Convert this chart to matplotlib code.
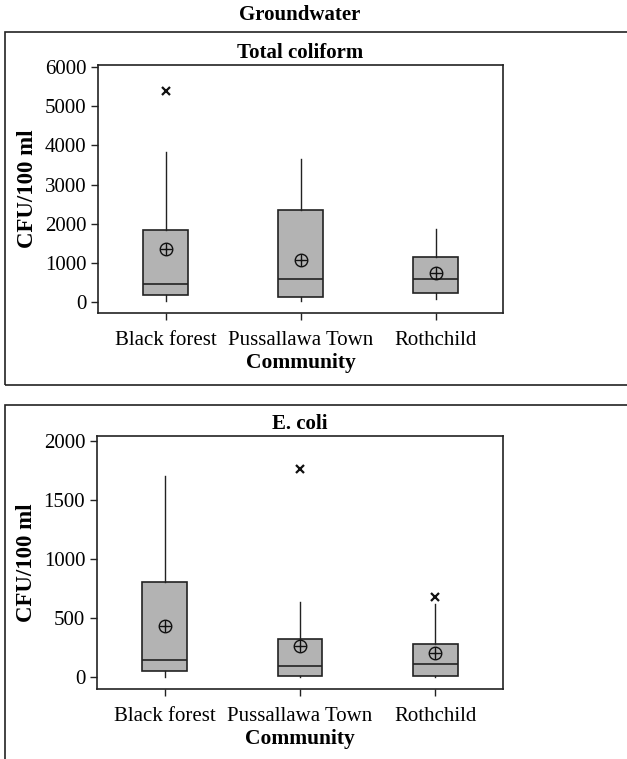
import matplotlib.pyplot as plt
from matplotlib.patches import Rectangle

# community names on x axis
communities = ["Black forest", "Pussallawa Town", "Rothchild"]

# total coliform (CFU/100 ml)
tc_whislo = [34, 34, 85]
tc_q1 = [178, 119, 229]
tc_med = [458, 577, 577]
tc_q3 = [1833, 2343, 1146]
tc_whishi = [3820, 3642, 1876]
tc_mean = [1358, 1070, 747]
tc_fliers = [[5390], [], []]

# E. coli (CFU/100 ml)
ec_whislo = [0, 0, 0]
ec_q1 = [54, 14, 14]
ec_med = [146, 93, 110]
ec_q3 = [808, 321, 282]
ec_whishi = [1701, 639, 620]
ec_mean = [434, 265, 203]
ec_fliers = [[], [1758], [682]]

FONT = "Liberation Serif"
plt.rcParams['font.family'] = FONT


def make_stats(whislo, q1, med, q3, whishi, mean, fliers):
    stats = []
    for i in range(len(communities)):
        stats.append({
            "whislo": whislo[i], "q1": q1[i], "med": med[i], "q3": q3[i],
            "whishi": whishi[i], "mean": mean[i], "fliers": fliers[i],
            "label": communities[i],
        })
    return stats


def draw_panel(ax, stats, title, ylim, yticks):
    ax.bxp(stats, positions=[1, 2, 3], widths=0.33, patch_artist=True,
           showmeans=False, showcaps=False,
           boxprops=dict(facecolor="#b3b3b3", edgecolor="#222222", linewidth=1.2),
           medianprops=dict(color="#222222", linewidth=1.2),
           whiskerprops=dict(color="#222222", linewidth=1.0),
           flierprops=dict(marker="x", markersize=5.5, markeredgewidth=1.6,
                           markeredgecolor="#111111"))
    means = [s["mean"] for s in stats]
    # mean symbol: circle with a cross inside
    ax.plot([1, 2, 3], means, linestyle="none", marker="o", markersize=9,
            markerfacecolor="none", markeredgecolor="#111111", markeredgewidth=1.0,
            zorder=5)
    ax.plot([1, 2, 3], means, linestyle="none", marker="+", markersize=9,
            markeredgecolor="#111111", markeredgewidth=1.0, zorder=5)
    ax.set_xlim(0.5, 3.5)
    ax.set_ylim(*ylim)
    ax.set_yticks(yticks)
    ax.set_xticks([1, 2, 3])
    ax.set_xticklabels(communities)
    ax.tick_params(axis="both", labelsize=15, length=5, width=1.0, color="#222222")
    ax.tick_params(axis="x", pad=8)
    ax.set_title(title, fontsize=15, fontweight="bold", pad=5)
    ax.set_xlabel("Community", fontsize=15.5, fontweight="bold", labelpad=2)
    ax.set_ylabel("CFU/100 ml", fontsize=16.5, fontweight="bold", labelpad=5)
    for sp in ax.spines.values():
        sp.set_linewidth(1.2)
        sp.set_color("#222222")


fig = plt.figure(figsize=(6.27, 7.59), dpi=100)

ax1 = fig.add_axes([0.1563, 0.5876, 0.646, 0.3267])
draw_panel(ax1, make_stats(tc_whislo, tc_q1, tc_med, tc_q3, tc_whishi, tc_mean, tc_fliers),
           "Total coliform", (-280, 6050), [0, 1000, 2000, 3000, 4000, 5000, 6000])

ax2 = fig.add_axes([0.1547, 0.0922, 0.6475, 0.3333])
draw_panel(ax2, make_stats(ec_whislo, ec_q1, ec_med, ec_q3, ec_whishi, ec_mean, ec_fliers),
           "E. coli", (-99, 2039), [0, 500, 1000, 1500, 2000])

fig.text(0.4785, 0.980, "Groundwater", ha="center", va="center",
         fontsize=15, fontweight="bold")

# outer frames around each panel (open on the right / bottom edges)
fig.patches.append(Rectangle((5 / 627, 1 - 385 / 759), 1.0, (385 - 32) / 759,
                             transform=fig.transFigure, fill=False,
                             edgecolor="#222222", linewidth=1.2))
fig.patches.append(Rectangle((5 / 627, -0.05), 1.0, 0.05 + (759 - 405) / 759,
                             transform=fig.transFigure, fill=False,
                             edgecolor="#222222", linewidth=1.2))

plt.savefig("out.png", dpi=100)
